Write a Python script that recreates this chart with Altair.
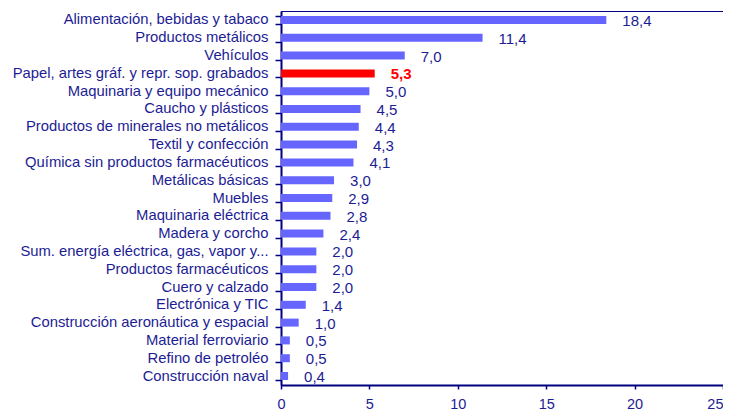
import altair as alt
import pandas as pd

categorias = [
    "Alimentación, bebidas y tabaco",
    "Productos metálicos",
    "Vehículos",
    "Papel, artes gráf. y repr. sop. grabados",
    "Maquinaria y equipo mecánico",
    "Caucho y plásticos",
    "Productos de minerales no metálicos\u00a0",
    "Textil y confección",
    "Química sin productos farmacéuticos",
    "Metálicas básicas",
    "Muebles",
    "Maquinaria eléctrica",
    "Madera y corcho",
    "Sum. energía eléctrica, gas, vapor y...",
    "Productos farmacéuticos",
    "Cuero y calzado",
    "Electrónica y TIC",
    "Construcción aeronáutica y espacial",
    "Material ferroviario",
    "Refino de petroléo\u00a0",
    "Construcción naval",
]
valores = [18.4, 11.4, 7.0, 5.3, 5.0, 4.5, 4.4, 4.3, 4.1, 3.0, 2.9, 2.8, 2.4,
           2.0, 2.0, 2.0, 1.4, 1.0, 0.5, 0.5, 0.4]
destacado = "Papel, artes gráf. y repr. sop. grabados"
x_ticks = [0, 5, 10, 15, 20, 25]

df = pd.DataFrame({"categoria": categorias, "valor": valores})
df["etiqueta"] = [f"{v:.1f}".replace(".", ",") for v in valores]
df["destacado"] = df["categoria"] == destacado

AXIS = "#000080"
TEXT = "#1c1c94"
FONT = "Liberation Sans"

y = alt.Y("categoria:N", sort=categorias, title=None,
          scale=alt.Scale(paddingInner=0.55, paddingOuter=0.28),
          axis=alt.Axis(labelFont=FONT, labelFontSize=14.8, labelColor=TEXT,
                        labelPadding=7, labelLimit=400, tickBand="extent",
                        tickSize=6, tickColor=AXIS, tickWidth=1.5,
                        domainColor=AXIS, domainWidth=2, grid=False))
x = alt.X("valor:Q", title=None,
          scale=alt.Scale(domain=[0, 25], nice=False),
          axis=alt.Axis(values=x_ticks, labelFont=FONT, labelFontSize=14.5,
                        labelColor=TEXT, labelPadding=8, tickSize=4,
                        labelAlign=alt.ExprRef(expr="datum.value == 25 ? 'right' : 'center'"),
                        tickColor=AXIS, tickWidth=1.5, domainColor=AXIS,
                        domainWidth=2, grid=False))

bars = alt.Chart(df).mark_bar(size=8).encode(
    y=y, x=x,
    color=alt.condition("datum.destacado", alt.value("#FF0000"), alt.value("#6666FF")),
)

labels = alt.Chart(df).transform_filter("!datum.destacado").mark_text(
    align="left", baseline="middle", dx=16, dy=1, font=FONT, fontSize=15, color=TEXT
).encode(
    y=alt.Y("categoria:N", sort=categorias),
    x="valor:Q",
    text="etiqueta:N",
)

label_red = alt.Chart(df).transform_filter("datum.destacado").mark_text(
    align="left", baseline="middle", dx=16, dy=1, font=FONT, fontSize=15,
    color="#FF0000", fontWeight="bold"
).encode(
    y=alt.Y("categoria:N", sort=categorias),
    x="valor:Q",
    text="etiqueta:N",
)

chart = (bars + labels + label_red).properties(
    width=442, height=374,
    autosize=alt.AutoSizeParams(type="none"),
    padding={"left": 273, "top": 3, "right": 0, "bottom": 26},
    background="white",
).configure_view(stroke=AXIS, strokeWidth=1)

chart.save("out.html", embed_options={"renderer": "svg", "actions": False})
